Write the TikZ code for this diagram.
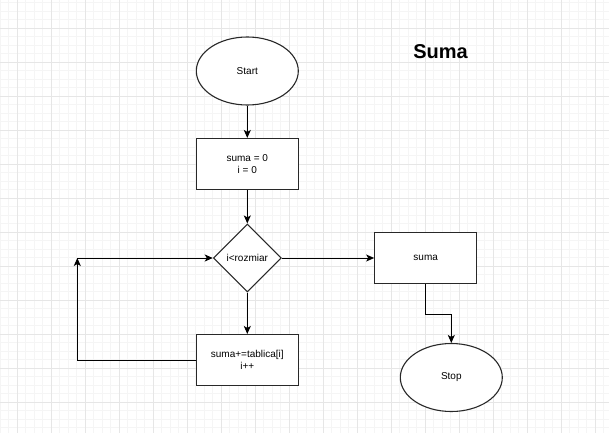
\documentclass[tikz,border=0pt]{standalone}
\usepackage{fontspec}
\setmainfont{Liberation Sans}
\usetikzlibrary{shapes.geometric,arrows.meta}
\definecolor{gridminor}{RGB}{245,245,245}
\definecolor{gridmajor}{RGB}{230,230,230}
\definecolor{shapeline}{RGB}{40,40,40}
\tikzset{
  shp/.style={draw=shapeline, line width=1.1pt, fill=white, inner sep=0pt, align=center,
              font=\fontsize{10}{12.5}\selectfont},
  ell/.style={shp, ellipse, minimum width=102pt, minimum height=68pt},
  box/.style={shp, rectangle, minimum width=102pt, minimum height=51pt},
  dec/.style={shp, diamond, minimum width=68pt, minimum height=68pt},
  arr/.style={draw=black, line width=1pt, -{Stealth[length=8pt,width=7pt,inset=2pt]}},
  minorline/.style={draw=gridminor, line width=0.7pt},
  majorline/.style={draw=gridmajor, line width=0.9pt}
}
\begin{document}
\begin{tikzpicture}[x=1pt,y=-1pt]
\useasboundingbox (0,0) rectangle (609,433);
\fill[white] (0,0) rectangle (609,433);
\begin{scope}
\clip (0,0) rectangle (609,433);
\foreach \i in {0,...,72} {
  \draw[minorline] ({8.5*\i},0) -- ({8.5*\i},433);
}
\foreach \i in {0,...,51} {
  \draw[minorline] (0,{2.5+8.5*\i}) -- (609,{2.5+8.5*\i});
}
\foreach \i in {-1,...,18} {
  \draw[majorline] ({17+34*\i},0) -- ({17+34*\i},433);
}
\foreach \i in {-1,...,12} {
  \draw[majorline] (0,{28+34*\i}) -- (609,{28+34*\i});
}
\end{scope}

\node[ell] (start) at (247.3,71) {Start};
\node[box] (init) at (247.3,164) {suma = 0\\ i = 0};
\node[dec] (cond) at (247.3,258) {i<rozmiar};
\node[box] (body) at (247.3,360) {suma+=tablica[i]\\ i++};
\node[box] (out) at (425.7,258) {suma};
\node[ell] (stop) at (451.3,377.5) {Stop};
\node[font=\bfseries\fontsize{20}{24}\selectfont] (title) at (440.5,52) {Suma};

\coordinate (lp) at (77.3,258);

\draw[arr] (start) -- (init);
\draw[arr] (init) -- (cond);
\draw[arr] (cond) -- (body);
\draw[arr] (cond) -- (out);
\draw[arr] (out.south) -- ++(0,30) -| (stop.north);
\draw[arr] (body.west) -| (lp);
\draw[arr] (lp) -- (cond.west);
\end{tikzpicture}
\end{document}
